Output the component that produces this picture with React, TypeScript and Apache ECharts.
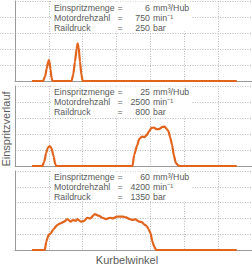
import React, { useEffect, useRef } from "react";
import * as echarts from "echarts";

// Kurbelwinkel (crank angle, arbitrary units) and Einspritzverlauf values per panel
const angle1 = [5.0, 8.3, 8.9, 9.4, 9.8, 10.0, 10.2, 10.5, 10.8, 11.1, 16.7, 17.2, 17.7, 18.2, 18.5, 18.8, 19.2, 19.6, 20.0, 65.5];
const rate1 = [0, 0, 0.3, 0.8, 1.2, 1.3, 1.2, 0.7, 0.2, 0, 0, 0.4, 1.2, 2.0, 2.35, 2.1, 1.2, 0.4, 0, 0];

const angle2 = [5.0, 8.06, 8.6, 9.2, 9.7, 10.3, 10.8, 11.4, 11.9, 12.2, 34.7, 35.2, 36.1, 36.7, 37.5, 38.3, 38.9, 39.7, 40.3, 41.1, 41.7, 42.5, 43.6, 44.2, 44.7, 45.3, 45.8, 46.4, 46.9, 47.5, 48.1, 48.6, 65.5];
const rate2 = [0, 0, 0.25, 0.8, 1.15, 1.25, 1.1, 0.6, 0.1, 0, 0, 0.7, 1.3, 1.7, 1.83, 1.81, 1.94, 2.2, 2.38, 2.4, 2.31, 2.31, 2.44, 2.46, 2.34, 2.19, 1.81, 1.31, 0.69, 0.19, 0.06, 0, 0];

const angle3 = [5.0, 8.8, 9.25, 9.9, 10.6, 11.4, 12.5, 13.4, 14.5, 15.5, 16.4, 17.1, 17.9, 18.5, 19.4, 20.4, 21.3, 22.2, 23.6, 24.7, 25.9, 26.9, 28.1, 29.0, 30.0, 31.9, 32.8, 33.9, 34.7, 35.6, 36.7, 37.5, 38.1, 38.9, 39.4, 40.0, 40.6, 41.1, 41.7, 65.5];
const rate3 = [0, 0, 0.53, 0.95, 1.06, 1.33, 1.58, 1.69, 1.79, 1.96, 1.79, 1.9, 1.85, 1.96, 1.79, 1.84, 2.04, 2.0, 2.27, 2.17, 2.04, 1.96, 2.04, 2.0, 2.11, 2.11, 2.06, 1.96, 1.9, 1.94, 1.79, 1.77, 1.63, 1.52, 1.33, 1.08, 0.53, 0.21, 0, 0];

const quantityLabels = ["6", "25", "60"];
const speedLabels = ["750", "2500", "4200"];
const pressureLabels = ["250", "800", "1350"];
const rowLabels = ["Einspritzmenge", "Motordrehzahl", "Raildruck"];
const unitLabels = ["mm³/Hub", "min⁻¹", "bar"];
const xTitle = "Kurbelwinkel";
const yTitle = "Einspritzverlauf";

const X_MAX = 70;
const Y_MAX = 5;

const ORANGE = "#e2631c";
const GRID_COLOR = "#b8b8b8";
const AXIS_COLOR = "#9a9a9a";
const TEXT_COLOR = "#5a5a5a";
const FONT = "'Liberation Sans', Arial, sans-serif";

const panelTops = [1, 86, 171];
const panelHeights = [80, 80, 79];
const textTops = [8, 92, 177];

export default function App() {
  const ref = useRef<HTMLDivElement>(null);

  useEffect(() => {
    if (!ref.current) return;
    const chart = echarts.init(ref.current, undefined, { renderer: "svg" });

    const series = [
      [angle1, rate1],
      [angle2, rate2],
      [angle3, rate3],
    ].map(([xs, ys], i) => ({
      type: "line",
      xAxisIndex: i,
      yAxisIndex: i,
      data: xs.map((x, j) => [x, ys[j]]),
      showSymbol: false,
      symbol: "none",
      smooth: 0.2,
      smoothMonotone: "x",
      lineStyle: { color: ORANGE, width: 2.2 },
      z: 10,
    }));

    const grids = panelTops.map((top, i) => ({
      left: 15,
      width: 250.6,
      top,
      height: panelHeights[i],
    }));

    const xAxes = panelTops.map((_, i) => ({
      type: "value",
      gridIndex: i,
      min: 0,
      max: X_MAX,
      interval: 10,
      axisLabel: { show: false },
      axisTick: { show: false },
      axisLine: { show: true, lineStyle: { color: AXIS_COLOR, width: 1 } },
      splitLine: { show: true, lineStyle: { color: GRID_COLOR, type: [1, 1.5], width: 1 } },
    }));

    const yAxes = panelTops.map((_, i) => ({
      type: "value",
      gridIndex: i,
      min: 0,
      max: Y_MAX,
      interval: 1,
      axisLabel: { show: false },
      axisTick: { show: false },
      axisLine: { show: true, lineStyle: { color: AXIS_COLOR, width: 1 } },
      splitLine: { show: true, lineStyle: { color: GRID_COLOR, type: [1, 1.5], width: 1 } },
    }));

    const textStyle = (extra: any) => ({
      fill: TEXT_COLOR,
      font: `8.8px ${FONT}`,
      verticalAlign: "middle",
      ...extra,
    });

    const graphics: any[] = [];
    // short dotted extensions left of the first panel
    [1, 2, 3, 4].forEach((k) => {
      const y = Math.round(panelTops[0] + panelHeights[0] - (k * panelHeights[0]) / Y_MAX) + 0.5;
      graphics.push({
        type: "line",
        shape: { x1: 0, y1: y, x2: 15, y2: y },
        style: { stroke: GRID_COLOR, lineWidth: 1, lineDash: [1, 1.5] },
        z: 5,
      });
    });
    panelTops.forEach((top, i) => {
      graphics.push({
        type: "rect",
        shape: { x: 52, y: top + 0.5, width: 140, height: 30 },
        style: { fill: "#ffffff" },
        z: 50,
      });
      const ty = textTops[i];
      const values = [quantityLabels[i], speedLabels[i], pressureLabels[i]];
      rowLabels.forEach((label, r) => {
        const y = ty + r * 10;
        graphics.push({ type: "text", x: 54, y, style: textStyle({ text: label }), z: 51 });
        graphics.push({ type: "text", x: 117.5, y, style: textStyle({ text: "=" }), z: 51 });
        graphics.push({ type: "text", x: 150, y, style: textStyle({ text: values[r], align: "right" }), z: 51 });
        graphics.push({ type: "text", x: 153, y, style: textStyle({ text: unitLabels[r] }), z: 51 });
      });
    });
    graphics.push({
      type: "text",
      x: 127,
      y: 260,
      style: { text: xTitle, fill: TEXT_COLOR, font: `11px ${FONT}`, align: "center", verticalAlign: "middle" },
      z: 51,
    });
    graphics.push({
      type: "text",
      x: 6,
      y: 129,
      rotation: Math.PI / 2,
      style: { text: yTitle, fill: TEXT_COLOR, font: `11px ${FONT}`, align: "center", verticalAlign: "middle" },
      z: 51,
    });

    chart.setOption({
      animation: false,
      grid: grids,
      xAxis: xAxes,
      yAxis: yAxes,
      series,
      graphic: graphics,
    });

    return () => chart.dispose();
  }, []);

  return (
    <div
      ref={ref}
      style={{ position: "absolute", left: 0, top: 0, width: 252, height: 267, background: "#ffffff", overflow: "hidden" }}
    />
  );
}
